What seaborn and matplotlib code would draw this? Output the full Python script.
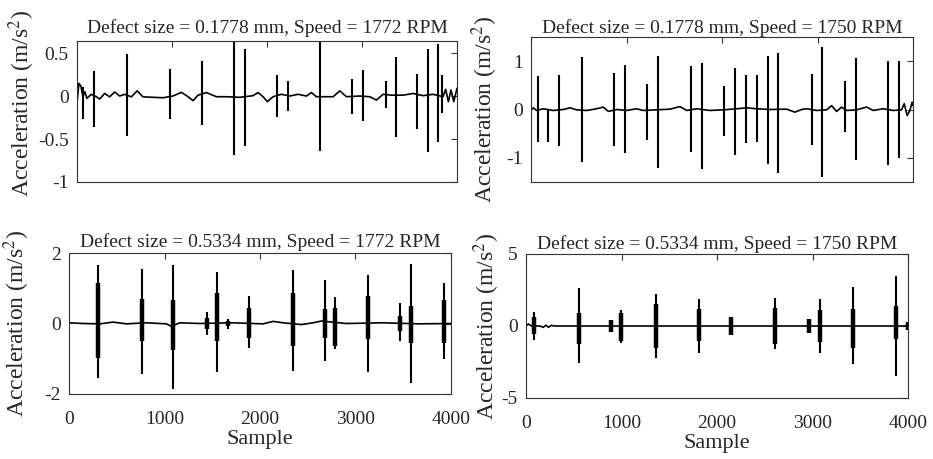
import numpy as np
import matplotlib
matplotlib.use("Agg")
import matplotlib.pyplot as plt
import seaborn as sns

# ---- data (sample index, acceleration in m/s^2) ----
titles = [
    "Defect size = 0.1778 mm, Speed = 1772 RPM",
    "Defect size = 0.1778 mm, Speed = 1750 RPM",
    "Defect size = 0.5334 mm, Speed = 1772 RPM",
    "Defect size = 0.5334 mm, Speed = 1750 RPM",
]

# top-left: impulses (position, positive peak, negative peak)
tl_pos = [66, 182, 523, 979, 1319, 1656, 1769, 2103, 2225, 2559, 2899, 3015,
          3251, 3359, 3577, 3693, 3805, 3840]
tl_hi = [0.10, 0.29, 0.49, 0.32, 0.41, 0.64, 0.55, 0.24, 0.17, 0.64, 0.20, 0.30,
         0.18, 0.45, 0.26, 0.55, 0.60, 0.25]
tl_lo = [-0.27, -0.36, -0.47, -0.27, -0.34, -0.69, -0.58, -0.24, -0.17, -0.64,
         -0.21, -0.29, -0.14, -0.48, -0.38, -0.65, -0.53, -0.20]
tl_base_x = [0, 20, 41, 62, 83, 104, 150, 203, 239, 291, 344, 396, 449, 502, 572,
             632, 695, 800, 906, 1011, 1099, 1169, 1222, 1274, 1362, 1467, 1572,
             1713, 1853, 1906, 1959, 2004, 2064, 2151, 2239, 2327, 2415, 2467,
             2520, 2696, 2766, 2836, 2977, 3082, 3152, 3222, 3310, 3433, 3538,
             3643, 3748, 3853, 3881, 3909, 3937, 3966, 4000]
tl_base_y = [-0.085, 0.147, 0.116, -0.008, 0.05, -0.027, 0.02, -0.008, -0.035,
             0.03, -0.01, 0.047, 0.0, 0.02, -0.01, 0.06, -0.01, -0.015, -0.02,
             0.0, 0.043, -0.008, -0.054, 0.01, 0.04, -0.008, -0.008, -0.015,
             0.004, 0.04, -0.008, -0.066, -0.008, 0.02, 0.0, 0.02, 0.0, 0.04,
             -0.008, -0.008, 0.06, -0.008, 0.0, -0.008, -0.047, 0.02, 0.01,
             0.01, 0.03, 0.004, 0.02, -0.008, 0.078, -0.066, 0.07, -0.066, 0.09]

# top-right
tr_pos = [70, 181, 293, 531, 869, 984, 1218, 1333, 1672, 1787, 2021, 2136, 2251,
          2363, 2478, 2589, 2939, 3050, 3288, 3400, 3741, 3856]
tr_hi = [0.69, 0.0, 0.71, 1.08, 0.76, 0.92, 0.52, 1.10, 0.90, 0.96, 0.48, 0.85,
         0.71, 0.72, 1.10, 1.17, 0.73, 1.29, 0.58, 1.07, 1.00, 1.00]
tr_lo = [-0.68, -0.67, -0.76, -1.08, -0.76, -0.90, -0.63, -1.20, -0.87, -1.24,
         -0.54, -0.94, -0.70, -0.68, -1.13, -1.32, -0.74, -1.39, -0.47, -1.05,
         -1.15, -1.00]
tr_base_x = [0, 24, 59, 129, 234, 339, 408, 478, 583, 687, 757, 810, 897, 1001,
             1106, 1176, 1316, 1455, 1560, 1630, 1734, 1874, 2013, 2153, 2258,
             2362, 2502, 2676, 2764, 2834, 2886, 2990, 3095, 3148, 3200, 3252,
             3305, 3409, 3514, 3584, 3688, 3793, 3880, 3908, 3939, 3967, 3991, 4000]
tr_base_y = [-0.02, 0.035, -0.02, 0.015, -0.02, 0.0, 0.035, -0.007, -0.02, 0.015,
             0.05, -0.04, 0.0, -0.02, 0.015, -0.02, -0.007, 0.007, 0.06, -0.02,
             0.015, -0.02, -0.007, 0.015, 0.035, 0.015, 0.0, 0.007, -0.055,
             0.0, 0.015, -0.02, -0.007, 0.08, -0.04, 0.05, -0.02, -0.007, 0.05,
             -0.02, 0.015, -0.02, -0.007, 0.12, -0.125, -0.02, 0.15, 0.08]

# bottom-left: bursts (position, peak, trough, dense core top, dense core bottom)
bl_pos = [307, 761, 1092, 1441, 1546, 1661, 1888, 2342, 2684, 2789, 3130, 3469,
          3581, 3923]
bl_hi = [1.67, 1.56, 1.67, 0.33, 1.45, 0.14, 0.77, 1.53, 1.22, 0.74, 1.38, 0.58,
         1.70, 1.15]
bl_lo = [-1.54, -1.42, -1.87, -0.34, -1.37, -0.15, -0.69, -1.36, -1.07, -0.71,
         -1.38, -0.50, -1.70, -1.02]
bl_core_hi = [1.15, 0.70, 0.68, 0.15, 0.87, 0.08, 0.44, 0.87, 0.40, 0.45, 0.77,
              0.20, 0.49, 0.68]
bl_core_lo = [-0.97, -0.50, -0.74, -0.15, -0.50, -0.08, -0.41, -0.64, -0.40,
              -0.64, -0.45, -0.20, -0.55, -0.55]
bl_base_x = [0, 146, 321, 461, 600, 810, 1019, 1072, 1159, 1369, 1718, 2032,
             2137, 2242, 2434, 2556, 2643, 2905, 3289, 3673, 4000]
bl_base_y = [0.02, 0.0, -0.01, 0.04, -0.01, 0.02, -0.01, -0.08, 0.02, 0.0, 0.02,
             -0.01, 0.06, 0.02, -0.03, 0.02, 0.07, 0.0, 0.02, -0.01, 0.0]

# bottom-right
br_pos = [84, 552, 893, 998, 1357, 1808, 2150, 2610, 2960, 3075, 3424, 3878, 3999]
br_hi = [0.97, 2.62, 0.40, 1.09, 2.25, 1.86, 0.60, 1.92, 0.49, 1.86, 2.71, 3.47,
         0.25]
br_lo = [-0.99, -2.55, -0.39, -1.15, -2.25, -1.85, -0.60, -1.60, -0.51, -1.85,
         -2.66, -3.47, -0.25]
br_core_hi = [0.60, 0.93, 0.40, 0.93, 1.50, 1.16, 0.60, 1.27, 0.49, 1.10, 1.16,
              1.39, 0.25]
br_core_lo = [-0.56, -1.27, -0.39, -1.04, -1.50, -1.04, -0.60, -1.27, -0.51,
              -1.10, -1.50, -0.93, -0.25]
br_base_x = [0, 24, 59, 146, 181, 209, 237, 265, 293, 1500, 3000, 4000]
br_base_y = [0.0, 0.14, 0.0, 0.0, -0.09, 0.05, -0.09, 0.05, 0.0, 0.0, 0.0, 0.0]

# ---- styling ----
sns.set_style("white")
plt.rcParams["font.family"] = ["Liberation Serif", "DejaVu Serif"]
plt.rcParams["mathtext.fontset"] = "stix"
plt.rcParams["axes.unicode_minus"] = False

W, H = 933, 459
fig = plt.figure(figsize=(W / 100, H / 100), dpi=100)


def box(l, r, t, b):
    return [l / W, 1 - b / H, (r - l) / W, (b - t) / H]


panels = [
    dict(rect=box(77, 457, 41, 182), pos=tl_pos, hi=tl_hi, lo=tl_lo,
         bx=tl_base_x, by=tl_base_y, ylim=(-1, 0.64),
         yticks=[-1, -0.5, 0, 0.5], yticklabels=["-1", "-0.5", "0", "0.5"],
         pad=5.5, labx=-0.104, laby=0.56),
    dict(rect=box(531, 913, 37, 182), pos=tr_pos, hi=tr_hi, lo=tr_lo,
         bx=tr_base_x, by=tr_base_y, ylim=(-1.5, 1.5),
         yticks=[-1, 0, 1], yticklabels=["-1", "0", "1"], pad=2.7,
         labx=-0.08, laby=0.5),
    dict(rect=box(69, 451, 253, 394), pos=bl_pos, hi=bl_hi, lo=bl_lo,
         chi=bl_core_hi, clo=bl_core_lo, bx=bl_base_x, by=bl_base_y,
         ylim=(-2, 2), yticks=[-2, 0, 2], yticklabels=["-2", "0", "2"],
         pad=4.0, labx=-0.097, laby=0.5),
    dict(rect=box(526, 908, 254, 398), pos=br_pos, hi=br_hi, lo=br_lo,
         chi=br_core_hi, clo=br_core_lo, bx=br_base_x, by=br_base_y,
         ylim=(-5, 5), yticks=[-5, 0, 5], yticklabels=["-5", "0", "5"],
         pad=3.4, labx=-0.064, laby=0.5),
]

for i, p in enumerate(panels):
    ax = fig.add_axes(p["rect"])
    sns.lineplot(x=p["bx"], y=p["by"], ax=ax, color="black", lw=1.2,
                 estimator=None)
    ax.vlines(p["pos"], p["lo"], p["hi"], color="black", lw=1.5)
    if "chi" in p:
        ax.vlines(p["pos"], p["clo"], p["chi"], color="black", lw=3.2)
    ax.set_xlim(0, 4000)
    ax.set_ylim(*p["ylim"])
    ax.set_xticks([0, 1000, 2000, 3000, 4000])
    ax.set_yticks(p["yticks"])
    ax.set_yticklabels(p["yticklabels"])
    if i < 2:
        ax.set_xticklabels([])
    else:
        ax.set_xlabel("Sample", fontsize=16, labelpad=2)
    ax.tick_params(direction="in", top=True, right=True, length=4, width=0.8,
                   labelsize=14, color="#333333")
    ax.tick_params(axis="y", pad=6)
    ax.tick_params(axis="x", pad=12)
    for s in ax.spines.values():
        s.set_color("#333333")
        s.set_linewidth(0.8)
    ax.set_title(titles[i], fontsize=14, pad=p["pad"])
    ax.set_ylabel(r"Acceleration (m/s$^2$)", fontsize=17)
    ax.yaxis.set_label_coords(p["labx"], p["laby"])

fig.savefig("out.png", dpi=100)
